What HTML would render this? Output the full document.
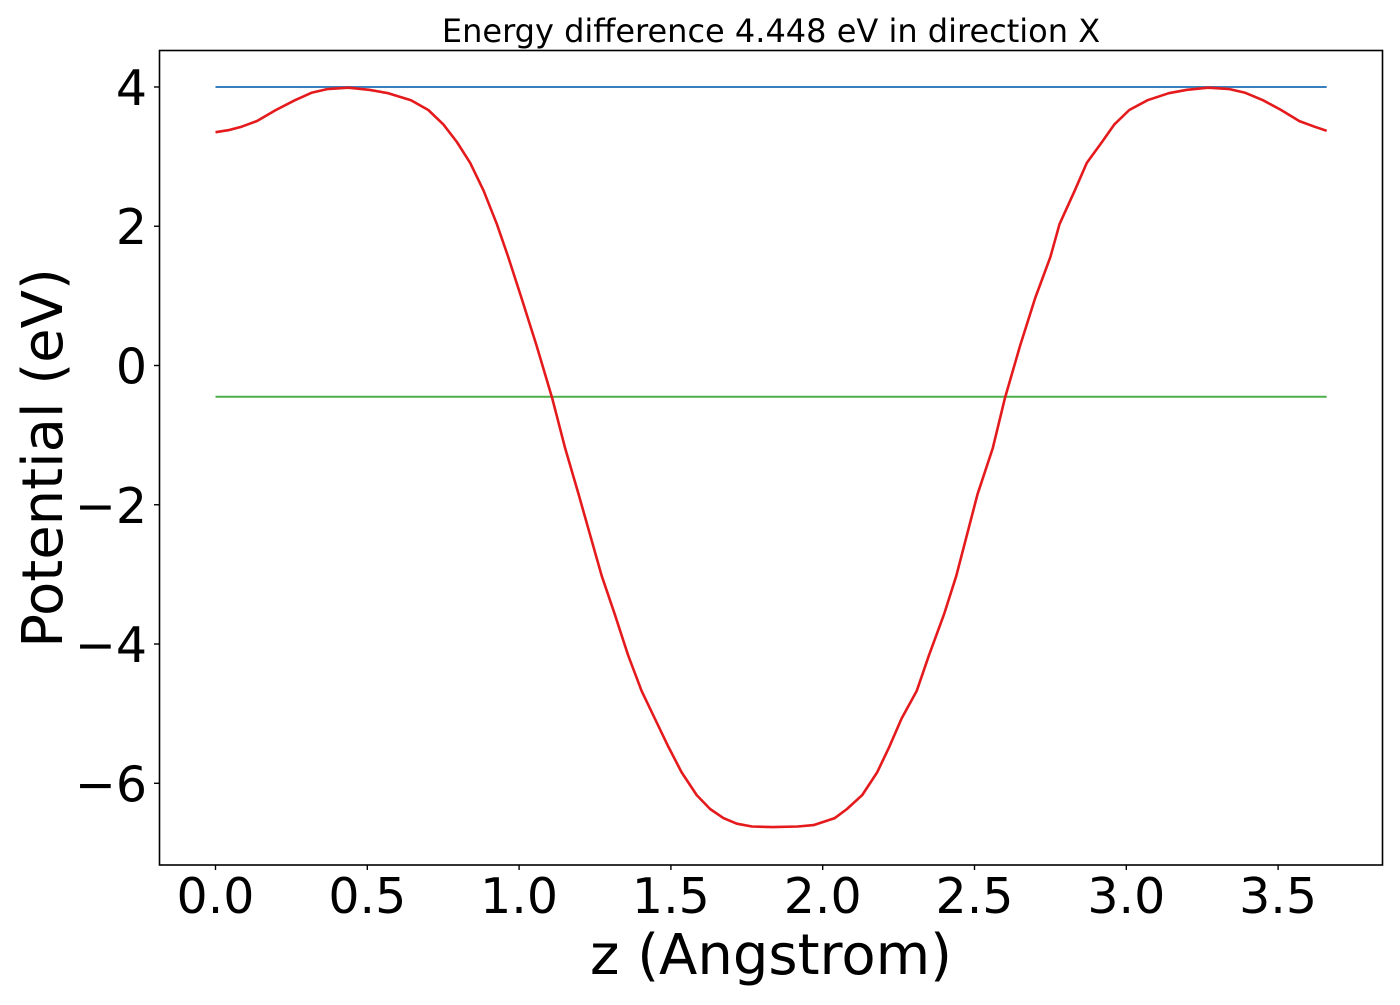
<!DOCTYPE html>
<html><head><meta charset="utf-8"><style>
html,body{margin:0;padding:0;background:#fff;}
svg text{font-family:"DejaVu Sans","Liberation Sans",sans-serif;fill:#000;}
</style></head><body>
<svg id="chart" width="1400" height="1000" viewBox="0 0 1400 1000" xmlns="http://www.w3.org/2000/svg">
<rect width="1400" height="1000" fill="#fff"/>
<text x="771" y="42" font-size="32" text-anchor="middle">Energy difference 4.448 eV in direction X</text>
<g id="plot"></g>
<rect x="159.5" y="50.5" width="1223" height="814.5" fill="none" stroke="#000" stroke-width="1.6"/>
<text x="771" y="974" font-size="56" text-anchor="middle">z (Angstrom)</text>
<text transform="translate(62,458) rotate(-90)" font-size="56" text-anchor="middle">Potential (eV)</text>
</svg>
<script>
const zValues = [0,0.042,0.086,0.136,0.199,0.262,0.318,0.368,0.437,0.506,0.569,0.644,0.701,0.751,0.795,0.839,0.883,0.927,0.964,1.008,1.058,1.109,1.152,1.196,1.272,1.315,1.359,1.403,1.447,1.491,1.535,1.585,1.629,1.673,1.717,1.767,1.836,1.918,1.97,2.04,2.08,2.13,2.18,2.22,2.26,2.31,2.35,2.40,2.44,2.51,2.56,2.60,2.65,2.70,2.75,2.78,2.83,2.87,2.92,2.96,3.01,3.07,3.14,3.20,3.27,3.34,3.39,3.45,3.51,3.57,3.62,3.66];
const potential = [3.35,3.38,3.43,3.51,3.67,3.81,3.92,3.97,3.99,3.96,3.91,3.81,3.67,3.46,3.21,2.91,2.51,2.03,1.56,0.97,0.28,-0.47,-1.19,-1.85,-3.02,-3.57,-4.16,-4.67,-5.07,-5.47,-5.84,-6.17,-6.37,-6.50,-6.58,-6.62,-6.63,-6.62,-6.60,-6.50,-6.37,-6.17,-5.84,-5.47,-5.07,-4.67,-4.16,-3.57,-3.02,-1.85,-1.19,-0.47,0.28,0.97,1.56,2.03,2.51,2.91,3.21,3.46,3.67,3.81,3.91,3.96,3.99,3.97,3.92,3.81,3.67,3.51,3.43,3.37];
const vacuumLevel = 4.0;
const fermiLevel = -0.448;
const xTicks = [0,0.5,1.0,1.5,2.0,2.5,3.0,3.5];
const xTickLabels = ["0.0","0.5","1.0","1.5","2.0","2.5","3.0","3.5"];
const yTicks = [-6,-4,-2,0,2,4];
const yTickLabels = ["\u22126","\u22124","\u22122","0","2","4"];

const NS = "http://www.w3.org/2000/svg";
function xs(z){ return 215.5 + z * 303.6; }
function ys(v){ return 365.5 - v * 69.63; }
const g = document.getElementById('plot');
function mk(tag, attrs){ const e = document.createElementNS(NS, tag); for (const k in attrs) e.setAttribute(k, attrs[k]); g.appendChild(e); return e; }

const zMin = zValues[0], zMax = zValues[zValues.length-1];
let l1 = mk('line', {x1:xs(zMin), x2:xs(zMax), y1:ys(vacuumLevel), y2:ys(vacuumLevel), stroke:'#3a7fbd', 'stroke-width':2});


let l2 = mk('line', {x1:xs(zMin), x2:xs(zMax), y1:ys(fermiLevel), y2:ys(fermiLevel), stroke:'#4daf4a', 'stroke-width':2});


let pts = zValues.map((z,i)=> xs(z).toFixed(1)+','+ys(potential[i]).toFixed(1)).join(' ');
let pl = mk('polyline', {points:pts, fill:'none', stroke:'#e41a1c', 'stroke-width':2.6, 'stroke-linejoin':'round'});



xTicks.forEach((t,i)=>{
  const x = xs(t);
  let tk = mk('line', {x1:x, x2:x, y1:865, y2:870, stroke:'#000', 'stroke-width':1.4});
  
  
  let tx = mk('text', {x:x, y:913, 'font-size':49, 'text-anchor':'middle'});
  tx.textContent = xTickLabels[i];
  
  
});
yTicks.forEach((t,i)=>{
  const y = ys(t);
  let tk = mk('line', {x1:154, x2:159.5, y1:y, y2:y, stroke:'#000', 'stroke-width':1.4});
  
  
  let tx = mk('text', {x:147, y:y+18, 'font-size':49, 'text-anchor':'end'});
  tx.textContent = yTickLabels[i];
  
  
});
</script>
</body></html>
